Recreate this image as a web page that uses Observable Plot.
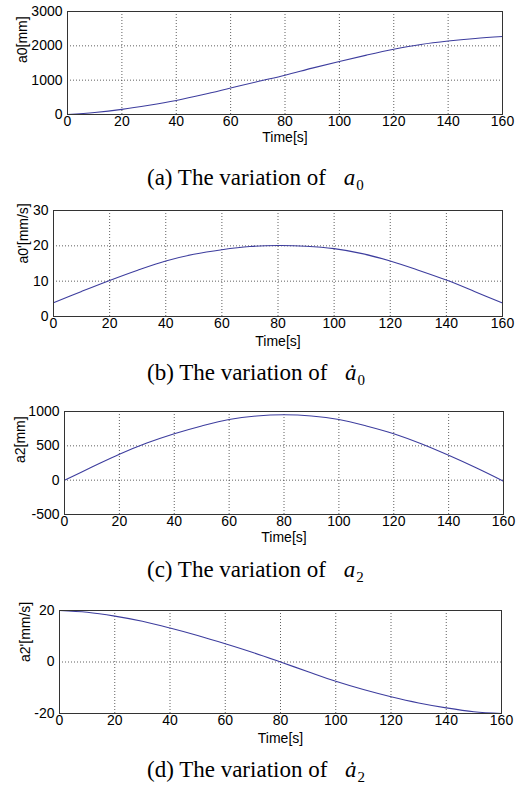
<!DOCTYPE html>
<html><head><meta charset="utf-8">
<script src="https://cdn.jsdelivr.net/npm/d3@7"></script>
<script src="https://cdn.jsdelivr.net/npm/@observablehq/plot@0.6"></script>
<style>
body{margin:0;background:#fff;}
#page{position:relative;width:523px;height:794px;background:#fff;overflow:hidden;}
.panel{position:absolute;left:0;}
.cap{position:absolute;left:147px;font-family:"Liberation Serif","Times New Roman",serif;font-size:23px;line-height:23px;white-space:nowrap;color:#000;}
.cap i{margin-left:12px;}
.cap .sub{font-size:15px;font-style:normal;position:relative;top:5px;margin-left:1px;}
</style></head><body><div id="page"></div>
<script>
const time = [0,10,20,30,40,50,60,70,80,90,100,110,120,130,140,150,160];
const a0 = [0,60,150,270,410,580,770,960,1145,1350,1545,1730,1900,2040,2140,2215,2270];
const a0dot = [3.9,7.1,10.2,13.1,15.7,17.6,18.9,19.8,20.1,19.9,19.2,17.8,15.7,13.1,10.3,7.1,3.8];
const a2 = [0,190,377,540,676,790,884,935,952,935,884,790,676,530,362,180,-15];
const a2dot = [20,19.3,17.8,15.8,13.2,10.3,7.1,3.7,0,-3.8,-7.5,-10.7,-13.5,-15.9,-17.8,-19.3,-20];
const xTicks = [0,20,40,60,80,100,120,140,160];
const yTicksA = [0,1000,2000,3000];
const yTicksB = [0,10,20,30];
const yTicksC = [-500,0,500,1000];
const yTicksD = [-20,0,20];
const yLabels = ["a0[mm]","a0'[mm/s]","a2[mm]","a2'[mm/s]"];
const xLabel = "Time[s]";
const capLetters = ["(a)","(b)","(c)","(d)"];
const capSymbols = ["a","\u0227","a","\u0227"];
const capSubs = ["0","0","2","2"];

const layout = [
  {top:0,   h:160, mt:11, mb:46, ml:67, mr:21, ylDx:-45, xlDy:27, capTop:166},
  {top:195, h:165, mt:15, mb:44, ml:53, mr:21, ylDx:-30, xlDy:29, capTop:361},
  {top:395, h:165, mt:16, mb:46, ml:64, mr:20, ylDx:-44, xlDy:27, capTop:558},
  {top:595, h:165, mt:15, mb:47, ml:59, mr:22, ylDx:-34, xlDy:29, capTop:758}
];
const series = [a0,a0dot,a2,a2dot];
const yTicks = [yTicksA,yTicksB,yTicksC,yTicksD];
const fmt = d => String(d);

const page = document.getElementById("page");
series.forEach((vals,i)=>{
  const L = layout[i];
  const data = time.map((t,j)=>({t, v: vals[j]}));
  const yt = yTicks[i];
  const grid = {stroke:"#444", strokeOpacity:0.85, strokeDasharray:"1,2"};
  const chart = Plot.plot({
    width:523, height:L.h,
    marginLeft:L.ml, marginRight:L.mr, marginTop:L.mt, marginBottom:L.mb,
    style:{fontFamily:"'Liberation Sans', Arial, sans-serif", fontSize:"14px", color:"#000", background:"transparent", overflow:"visible"},
    x:{domain:[0,160]},
    y:{domain:[yt[0], yt[yt.length-1]]},
    marks:[
      Plot.gridX(xTicks, grid),
      Plot.gridY(yt, grid),
      Plot.axisX(xTicks, {anchor:"bottom", tickSize:0, tickPadding:2, label:null, tickFormat:fmt}),
      Plot.axisY(yt, {anchor:"left", tickSize:0, tickPadding:5, label:null, tickFormat:fmt}),
      Plot.line(data, {x:"t", y:"v", stroke:"#3d3d9e", strokeWidth:1.1, curve:"catmull-rom"}),
      Plot.frame({stroke:"#333"}),
      Plot.text([yLabels[i]], {frameAnchor:"left", rotate:-90, dx:L.ylDx, text:d=>d}),
      Plot.text([xLabel], {frameAnchor:"bottom", dy:L.xlDy, text:d=>d})
    ]
  });
  const div = document.createElement("div");
  div.className = "panel";
  div.style.top = L.top + "px";
  div.appendChild(chart);
  page.appendChild(div);
  const cap = document.createElement("div");
  cap.className = "cap";
  cap.style.top = L.capTop + "px";
  cap.innerHTML = capLetters[i] + " The variation of <i>" + capSymbols[i] + "</i><span class='sub'>" + capSubs[i] + "</span>";
  page.appendChild(cap);
});
</script>
</body></html>
